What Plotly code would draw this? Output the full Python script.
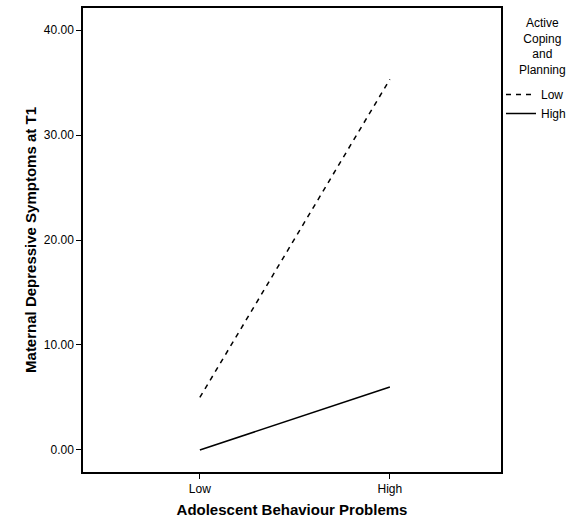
import plotly.graph_objects as go

categories = ["Low", "High"]
low_coping = [5.0, 35.3]
high_coping = [0.0, 6.0]
series_names = ["Low", "High"]
y_ticks = [0, 10, 20, 30, 40]
y_tick_labels = ["0.00", "10.00", "20.00", "30.00", "40.00"]
legend_title_lines = ["Active", "Coping", "and", "Planning"]

xpos = [0, 1]
fig = go.Figure()
fig.add_trace(go.Scatter(x=xpos, y=low_coping, mode="lines", name=series_names[0],
                         line=dict(color="black", width=1.5, dash="5px,5px")))
fig.add_trace(go.Scatter(x=xpos, y=high_coping, mode="lines", name=series_names[1],
                         line=dict(color="black", width=1.5)))

font = "Arial, Liberation Sans, sans-serif"
fig.update_layout(
    width=574, height=524,
    margin=dict(l=83, r=73, t=8, b=52, autoexpand=False),
    paper_bgcolor="white", plot_bgcolor="white",
    font=dict(family=font, size=12, color="black"),
    showlegend=True,
    legend=dict(xref="container", yref="container", x=501 / 574, y=1 - 80 / 524,
                xanchor="left", yanchor="top",
                font=dict(size=12), itemwidth=30, tracegroupgap=0,
                bgcolor="rgba(0,0,0,0)"),
    xaxis=dict(range=[-0.615, 1.585], tickvals=xpos, ticktext=categories,
               showgrid=False, zeroline=False, showline=True, mirror=True,
               linecolor="black", linewidth=1.5, ticks="outside", ticklen=5,
               tickcolor="black", tickfont=dict(size=12), automargin=False,
               title=dict(text="<b>Adolescent Behaviour Problems</b>",
                          font=dict(size=15), standoff=9)),
    yaxis=dict(range=[-2.1, 42.1], tickvals=y_ticks, ticktext=y_tick_labels,
               showgrid=False, zeroline=False, showline=True, mirror=True,
               linecolor="black", linewidth=1.5, ticks="outside", ticklen=5,
               tickcolor="black", tickfont=dict(size=12), automargin=False,
               title=dict(text="<b>Maternal Depressive Symptoms at T1</b>",
                          font=dict(size=15), standoff=4)),
)
fig.add_annotation(xref="paper", yref="paper", x=(542 - 83) / 418,
                   y=1 - (14 - 8) / 464, xanchor="center", yanchor="top",
                   showarrow=False, align="center",
                   text="<br>".join(legend_title_lines),
                   font=dict(size=12, family=font))
fig.write_html("out.html", config={"displayModeBar": False},
               post_script="document.body.style.margin='0';")
